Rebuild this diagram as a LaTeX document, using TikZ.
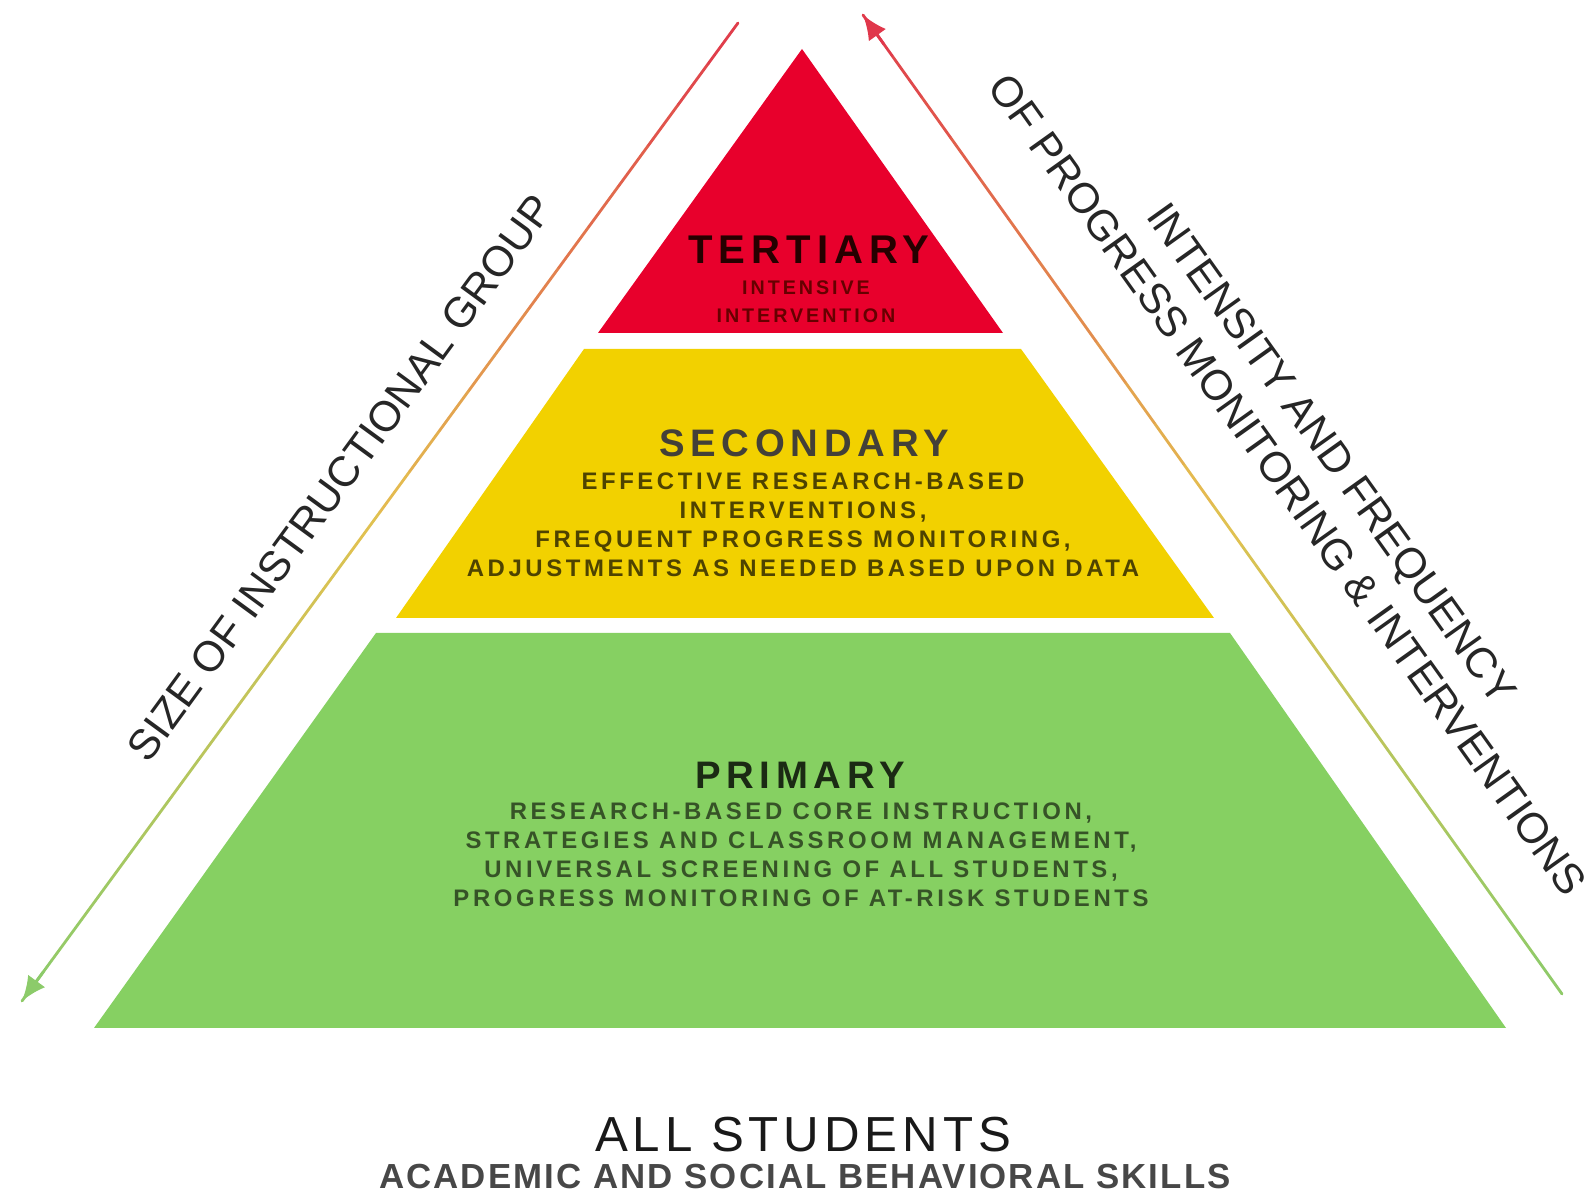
\documentclass[tikz,border=0pt]{standalone}
\usepackage{fontspec}
\setmainfont{Liberation Sans}
\newfontfamily\spacedfont[LetterSpace=15]{Liberation Sans}
\newfontfamily\loosefont[LetterSpace=10]{Liberation Sans}
\newfontfamily\slightfont[LetterSpace=6]{Liberation Sans}
\usetikzlibrary{arrows.meta,calc}

\definecolor{tierred}{HTML}{E8002C}
\definecolor{tieryellow}{HTML}{F2D100}
\definecolor{tiergreen}{HTML}{86D062}
\definecolor{arrred}{HTML}{E0374B}
\definecolor{arryellow}{HTML}{E4C050}
\definecolor{arrgreen}{HTML}{8CCB6A}

\tikzset{
  tiertitle/.style={inner sep=0pt, font=\fontsize{10.9}{12}\selectfont\spacedfont\bfseries},
  tierbody/.style={inner sep=0pt, align=center, font=\fontsize{6.8}{8.25}\selectfont\spacedfont\bfseries},
  sidelabel/.style={inner sep=0pt, align=center, text=black!85, font=\fontsize{12.1}{15.4}\selectfont},
}

% arrow line that fades from green (#1) to red (#2)
\newcommand\fadearrow[2]{%
  \foreach \i in {1,...,24}{
    \pgfmathtruncatemacro\mixp{min(100,(\i-0.5)/24*200)}
    \pgfmathtruncatemacro\mixq{max(0,((\i-0.5)/24-0.5)*200)}
    \ifnum\i<13 \colorlet{segc}{arryellow!\mixp!arrgreen}\else\colorlet{segc}{arrred!\mixq!arryellow}\fi
    \draw[segc, line width=0.8pt, line cap=round]
      ($(#1)!{(\i-1)/24}!(#2)$) -- ($(#1)!{\i/24}!(#2)$);
  }}

\begin{document}
\begin{tikzpicture}[x=0.01cm, y=0.01cm]
  \useasboundingbox (0,0) rectangle (1593,1195);

  % tiers
  \fill[tierred] (802,1146) -- (1003,862) -- (598,862) -- cycle;
  \fill[tieryellow] (584,846) -- (1021,846) -- (1214,577) -- (396,577) -- cycle;
  \fill[tiergreen] (376,562) -- (1230,562) -- (1506,167) -- (94,167) -- cycle;

  \node[tiertitle, text=black!85!red, font=\fontsize{11.4}{13}\selectfont\spacedfont\bfseries] (tertiary) at (809,945) {TERTIARY};
  \node[tierbody, text=black!60!red, font=\fontsize{5.6}{8}\selectfont\spacedfont\bfseries] (tertiarybody) at (806,893) {INTENSIVE\\INTERVENTION};

  \node[tiertitle, text=black!85!yellow] (secondary) at (804,752) {SECONDARY};
  \node[tierbody, text=black!68!tieryellow] (secondarybody) at (803,670)
    {EFFECTIVE RESEARCH-BASED\\INTERVENTIONS,\\FREQUENT PROGRESS MONITORING,\\ADJUSTMENTS AS NEEDED BASED UPON DATA};

  \node[tiertitle, text=black!80!tiergreen] (primary) at (800,420) {PRIMARY};
  \node[tierbody, text=black!60!tiergreen] (primarybody) at (801,340)
    {RESEARCH-BASED CORE INSTRUCTION,\\STRATEGIES AND CLASSROOM MANAGEMENT,\\UNIVERSAL SCREENING OF ALL STUDENTS,\\PROGRESS MONITORING OF AT-RISK STUDENTS};

  % side arrows
  \coordinate (lefttop) at (738,1172);
  \coordinate (leftend) at (22,194);
  \coordinate (rightstart) at (1562,201);
  \coordinate (rightend) at (863,1180);
  \fadearrow{leftend}{lefttop}
  \fadearrow{rightstart}{rightend}
  \draw[arrgreen, line width=0.8pt, -{Latex[length=7pt,width=6pt]}] ($(leftend)!0.03!(lefttop)$) -- (leftend);
  \draw[arrred, line width=0.8pt, -{Latex[length=7pt,width=6pt]}] ($(rightend)!0.03!(rightstart)$) -- (rightend);

  \node[sidelabel, rotate=53.8] (sizelabel) at (340,717) {SIZE OF INSTRUCTIONAL GROUP};
  \node[sidelabel, rotate=-54.5] (intensitylabel) at (1310,726)
    {INTENSITY AND FREQUENCY\\OF PROGRESS MONITORING \& INTERVENTIONS};

  % base
  \node[inner sep=0pt, text=black!90, font=\fontsize{14}{15}\selectfont\loosefont] (allstudents) at (803,60) {ALL STUDENTS};
  \node[inner sep=0pt, text=black!72, font=\fontsize{9.9}{11}\selectfont\slightfont\bfseries] (skills) at (805,18) {ACADEMIC AND SOCIAL BEHAVIORAL SKILLS};
\end{tikzpicture}
\end{document}
